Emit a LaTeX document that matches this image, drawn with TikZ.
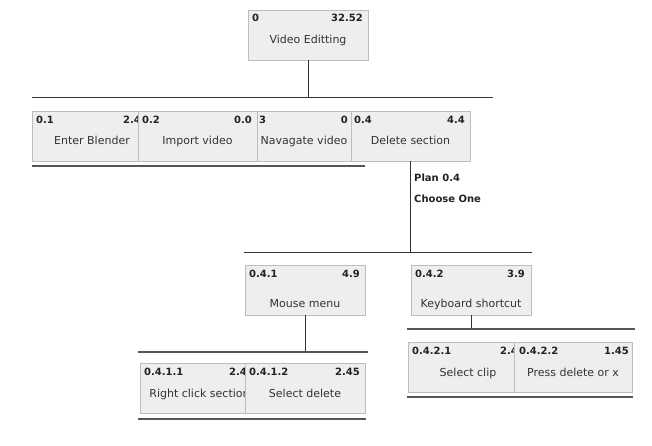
\documentclass[tikz,border=0pt]{standalone}
\usepackage{fontspec}
\newfontfamily\djv{DejaVu Sans}
\newcommand\mytxtfont{\djv\fontsize{11}{13}\selectfont}
\newcommand\mylabfont{\djv\bfseries\fontsize{10}{12}\selectfont}
\definecolor{boxfill}{HTML}{EEEEEE}
\definecolor{boxline}{HTML}{BDBDBD}
\definecolor{txtc}{HTML}{333333}
\definecolor{labc}{HTML}{222222}
\definecolor{conc}{HTML}{333333}
\definecolor{rulec}{HTML}{555555}
\tikzset{
  tbox/.style={draw=boxline, line width=0.8pt, fill=boxfill, minimum height=50pt, inner sep=0pt, outer sep=0pt, anchor=north west},
  idlab/.style={font=\mylabfont, text=labc, inner sep=0pt, anchor=base west},
  vallab/.style={font=\mylabfont, text=labc, inner sep=0pt, anchor=base east},
  cutlab/.style={font=\mylabfont, text=labc, inner sep=0pt, anchor=base west},
  maintxt/.style={font=\mytxtfont, text=txtc, inner sep=0pt, anchor=base},
  conn/.style={draw=conc, line width=1pt},
  rowrule/.style={draw=rulec, line width=1.3pt},
  plantxt/.style={font=\mylabfont, text=labc, inner sep=0pt, anchor=base west}
}
\begin{document}
\begin{tikzpicture}[x=1pt,y=-1pt]
\useasboundingbox (0,0) rectangle (652,445);

% ---- top box
\node[tbox, minimum width=120pt] (b0) at (248,10) {};
\begin{scope}
\clip (b0.south west) rectangle (b0.north east);
\node[idlab] (b0id) at ([xshift=4,yshift=-11]b0.north west) {0};
\node[vallab] (b0v) at ([xshift=-5,yshift=-11]b0.north east) {32.52};
\node[maintxt] (b0t) at ([yshift=-33]b0.north) {Video Editting};
\end{scope}

% ---- row 1
\coordinate (r1L) at (32,97);
\coordinate (r1R) at (493,97);
\draw[conn] (b0.south) -- (b0.south |- r1L);
\draw[conn] (r1L) -- (r1R);

\node[tbox, minimum width=106pt] (b01) at (32,111) {};
\begin{scope}
\clip (b01.south west) rectangle (b01.north east);
\node[idlab] (b01id) at ([xshift=4,yshift=-12]b01.north west) {0.1};
\node[cutlab] (b01v) at (123,123) {2.4};
\node[maintxt] (b01t) at ([xshift=7,yshift=-33]b01.north) {Enter Blender};
\end{scope}

\node[tbox, minimum width=119pt] (b02) at (138,111) {};
\begin{scope}
\clip (b02.south west) rectangle (b02.north east);
\node[idlab] (b02id) at ([xshift=4,yshift=-12]b02.north west) {0.2};
\node[vallab] (b02v) at ([xshift=-5,yshift=-12]b02.north east) {0.0};
\node[maintxt] (b02t) at ([yshift=-33]b02.north) {Import video};
\end{scope}

\node[tbox, minimum width=94pt] (b03) at (257,111) {};
\begin{scope}
\clip (b03.south west) rectangle (b03.north east);
\node[idlab] (b03id) at ([xshift=2,yshift=-12]b03.north west) {3};
\node[vallab] (b03v) at ([xshift=-3,yshift=-12]b03.north east) {0};
\node[maintxt] (b03t) at ([yshift=-33]b03.north) {Navagate video};
\end{scope}

\node[tbox, minimum width=119pt] (b04) at (351,111) {};
\begin{scope}
\clip (b04.south west) rectangle (b04.north east);
\node[idlab] (b04id) at ([xshift=3,yshift=-12]b04.north west) {0.4};
\node[vallab] (b04v) at ([xshift=-5,yshift=-12]b04.north east) {4.4};
\node[maintxt] (b04t) at ([yshift=-33]b04.north) {Delete section};
\end{scope}

\coordinate (r1bL) at (32,166);
\coordinate (r1bR) at (365,166);
\draw[rowrule] (r1bL) -- (r1bR);

% ---- plan text
\node[plantxt] (plan) at (414,181) {Plan 0.4};
\node[plantxt] (choose) at (414,202) {Choose One};

% ---- row 2
\coordinate (r2L) at (244,252);
\coordinate (r2R) at (532,252);
\draw[conn] (b04.south) -- (b04.south |- r2L);
\draw[conn] (r2L) -- (r2R);

\node[tbox, minimum width=120pt] (b041) at (245,265) {};
\begin{scope}
\clip (b041.south west) rectangle (b041.north east);
\node[idlab] (b041id) at ([xshift=4,yshift=-12]b041.north west) {0.4.1};
\node[vallab] (b041v) at ([xshift=-5,yshift=-12]b041.north east) {4.9};
\node[maintxt] (b041t) at ([yshift=-42]b041.north) {Mouse menu};
\end{scope}

\node[tbox, minimum width=120pt] (b042) at (411,265) {};
\begin{scope}
\clip (b042.south west) rectangle (b042.north east);
\node[idlab] (b042id) at ([xshift=4,yshift=-12]b042.north west) {0.4.2};
\node[vallab] (b042v) at ([xshift=-6,yshift=-12]b042.north east) {3.9};
\node[maintxt] (b042t) at ([yshift=-42]b042.north) {Keyboard shortcut};
\end{scope}

% ---- row 3 left
\coordinate (r3aL) at (138,352);
\coordinate (r3aR) at (368,352);
\draw[conn] (b041.south) -- (b041.south |- r3aL);
\draw[rowrule] (r3aL) -- (r3aR);

\node[tbox, minimum width=105pt] (b0411) at (140,363) {};
\begin{scope}
\clip (b0411.south west) rectangle (b0411.north east);
\node[idlab] (b0411id) at ([xshift=4,yshift=-12]b0411.north west) {0.4.1.1};
\node[cutlab] (b0411v) at (229,375) {2.4};
\node[maintxt] (b0411t) at ([xshift=7,yshift=-34]b0411.north) {Right click section};
\end{scope}

\node[tbox, minimum width=120pt] (b0412) at (245,363) {};
\begin{scope}
\clip (b0412.south west) rectangle (b0412.north east);
\node[idlab] (b0412id) at ([xshift=4,yshift=-12]b0412.north west) {0.4.1.2};
\node[vallab] (b0412v) at ([xshift=-5,yshift=-12]b0412.north east) {2.45};
\node[maintxt] (b0412t) at ([yshift=-34]b0412.north) {Select delete};
\end{scope}

\coordinate (r3abL) at (138,419);
\coordinate (r3abR) at (366,419);
\draw[rowrule] (r3abL) -- (r3abR);

% ---- row 3 right
\coordinate (r3bL) at (407,329);
\coordinate (r3bR) at (635,329);
\draw[conn] (b042.south) -- (b042.south |- r3bL);
\draw[rowrule] (r3bL) -- (r3bR);

\node[tbox, minimum width=106pt] (b0421) at (408,342) {};
\begin{scope}
\clip (b0421.south west) rectangle (b0421.north east);
\node[idlab] (b0421id) at ([xshift=4,yshift=-12]b0421.north west) {0.4.2.1};
\node[cutlab] (b0421v) at (500,354) {2.4};
\node[maintxt] (b0421t) at ([xshift=7,yshift=-34]b0421.north) {Select clip};
\end{scope}

\node[tbox, minimum width=118pt] (b0422) at (514,342) {};
\begin{scope}
\clip (b0422.south west) rectangle (b0422.north east);
\node[idlab] (b0422id) at ([xshift=5,yshift=-12]b0422.north west) {0.4.2.2};
\node[vallab] (b0422v) at ([xshift=-3,yshift=-12]b0422.north east) {1.45};
\node[maintxt] (b0422t) at ([yshift=-34]b0422.north) {Press delete or x};
\end{scope}

\coordinate (r3bbL) at (407,397);
\coordinate (r3bbR) at (633,397);
\draw[rowrule] (r3bbL) -- (r3bbR);
\end{tikzpicture}
\end{document}
